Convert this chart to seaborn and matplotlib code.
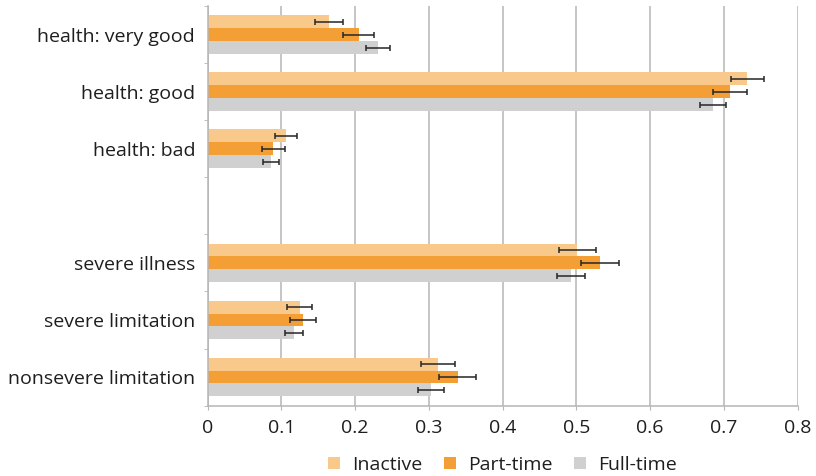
import pandas as pd
import matplotlib.pyplot as plt
import seaborn as sns

# data
categories = ["health: very good", "health: good", "health: bad", "",
              "severe illness", "severe limitation", "nonsevere limitation"]
groups = ["Inactive", "Part-time", "Full-time"]

inactive = [0.165, 0.732, 0.106, 0.501, 0.125, 0.312]
part_time = [0.205, 0.708, 0.089, 0.532, 0.129, 0.339]
full_time = [0.231, 0.685, 0.086, 0.493, 0.117, 0.303]

inactive_err = [0.019, 0.022, 0.015, 0.025, 0.017, 0.023]
part_time_err = [0.021, 0.023, 0.016, 0.026, 0.018, 0.025]
full_time_err = [0.016, 0.018, 0.011, 0.019, 0.012, 0.018]

x_ticks = [0, 0.1, 0.2, 0.3, 0.4, 0.5, 0.6, 0.7, 0.8]
x_labels = ["0", "0.1", "0.2", "0.3", "0.4", "0.5", "0.6", "0.7", "0.8"]

colors = ["#F9C98C", "#F39F36", "#D0D0D0"]

present = [c for c in categories if c != ""]
df = pd.DataFrame({
    "category": present * 3,
    "group": [g for g in groups for _ in present],
    "value": inactive + part_time + full_time,
})
errs = [inactive_err, part_time_err, full_time_err]

sns.set_style("white")
plt.rcParams["font.family"] = ["Open Sans", "DejaVu Sans"]

fig = plt.figure(figsize=(8.16, 4.76), dpi=100)
ax = fig.add_axes([0.2545, 0.148, 0.723, 0.839])

sns.barplot(data=df, y="category", x="value", hue="group", order=categories,
            hue_order=groups, palette=colors, width=0.68, orient="h",
            errorbar=None, saturation=1, linewidth=0, ax=ax, zorder=2)

# error bars at the centre of each drawn bar
for cont, err in zip(ax.containers, errs):
    for bar, e in zip(cont, err):
        ax.errorbar(bar.get_width(), bar.get_y() + bar.get_height() / 2, xerr=e,
                    fmt="none", ecolor="#262626", elinewidth=1.1, capsize=2.3,
                    capthick=1.1, zorder=3)

ax.set_xlim(0, 0.8)
ax.set_ylim(6.5, -0.5)
ax.set_xticks(x_ticks, x_labels)
ax.set_xlabel("")
ax.set_ylabel("")
ax.xaxis.grid(True, color="#B5B5B5", linewidth=1.1, zorder=0)
ax.yaxis.grid(False)
ax.set_axisbelow(True)

for s in ["top", "right"]:
    ax.spines[s].set_visible(False)
for s in ["left", "bottom"]:
    ax.spines[s].set_color("#B5B5B5")
    ax.spines[s].set_linewidth(1.1)

ax.tick_params(axis="x", bottom=True, length=3, color="#B5B5B5", pad=7,
               labelsize=14, labelcolor="#1e1e1e")
ax.tick_params(axis="y", which="major", length=0, pad=9, labelsize=14,
               labelcolor="#1e1e1e")
ax.set_yticks([i - 0.5 for i in range(len(categories) + 1)], minor=True)
ax.tick_params(axis="y", which="minor", left=True, length=3, color="#B5B5B5")

sns.move_legend(ax, "upper center", bbox_to_anchor=(0.5, -0.082), ncol=3,
                frameon=False, title=None, fontsize=14, handlelength=0.6,
                handleheight=0.6, handletextpad=0.65, columnspacing=1.1)
for t in ax.get_legend().get_texts():
    t.set_color("#1e1e1e")

fig.savefig("out.png", dpi=100)
